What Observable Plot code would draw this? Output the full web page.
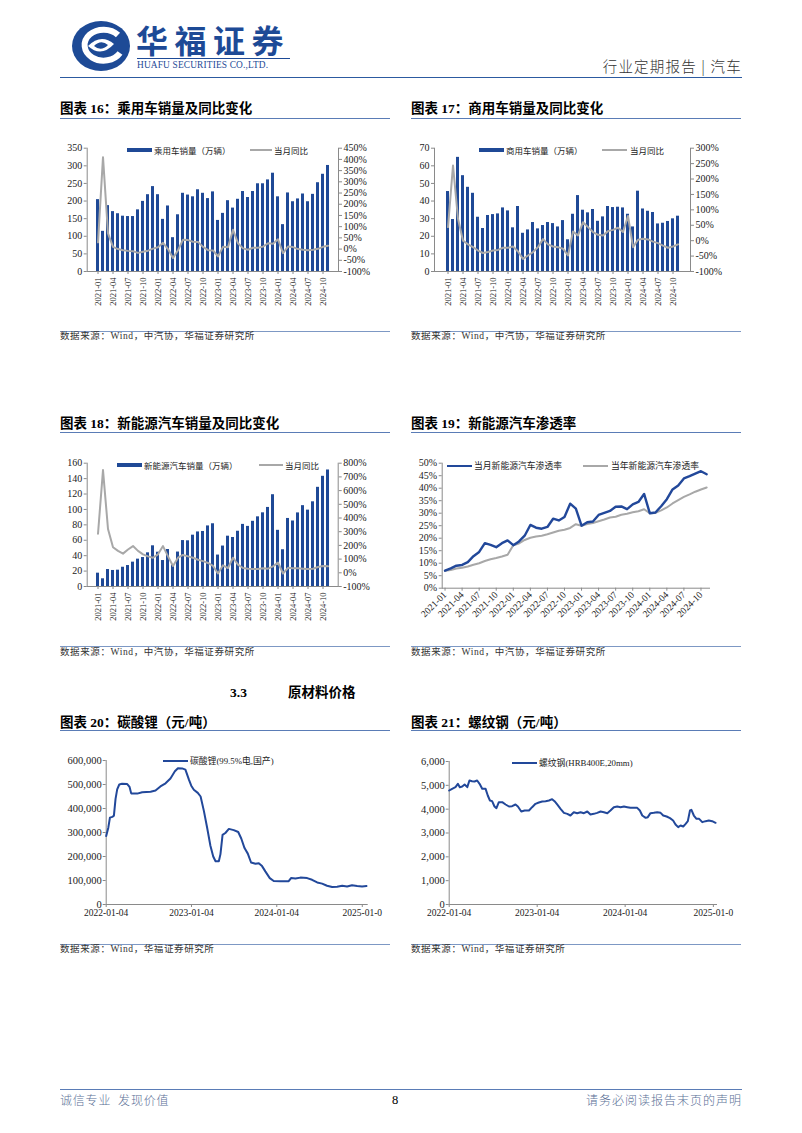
<!DOCTYPE html>
<html><head><meta charset="utf-8">
<script src="https://cdn.jsdelivr.net/npm/d3@7"></script>
<script src="https://cdn.jsdelivr.net/npm/@observablehq/plot@0.6"></script>
<style>
html,body{margin:0;padding:0;background:#fff;}
body{width:802px;height:1133px;position:relative;overflow:hidden;font-family:"Liberation Serif","Noto Sans CJK SC",serif;}
.abs{position:absolute;white-space:nowrap;}
svg{display:block;max-width:none !important;}
</style></head><body>
<script>
// ---------------- DATA ----------------
const months = ["2021-01","2021-02","2021-03","2021-04","2021-05","2021-06","2021-07","2021-08","2021-09","2021-10","2021-11","2021-12",
"2022-01","2022-02","2022-03","2022-04","2022-05","2022-06","2022-07","2022-08","2022-09","2022-10","2022-11","2022-12",
"2023-01","2023-02","2023-03","2023-04","2023-05","2023-06","2023-07","2023-08","2023-09","2023-10","2023-11","2023-12",
"2024-01","2024-02","2024-03","2024-04","2024-05","2024-06","2024-07","2024-08","2024-09","2024-10","2024-11"];
const quarterTicks = ["2021-01","2021-04","2021-07","2021-10","2022-01","2022-04","2022-07","2022-10","2023-01","2023-04","2023-07","2023-10","2024-01","2024-04","2024-07","2024-10"];

// 图表16 乘用车销量（万辆）及当月同比（%）
const pvSales = [204,114,187,170,164,157,156,156,175,199,218,241, 218,148,186,96,161,222,217,212,232,222,207,226, 145,165,201,180,205,227,210,227,249,249,260,279, 212,133,223,198,206,220,198,219,252,276,301];
const pvYoY = [30,410,70,10,0,-5,-8,-10,-17,-12,-7,2, 8,28,0,-40,-5,42,40,33,32,10,-5,-6, -33,10,8,86,26,3,-3,6,6,11,26,24, 44,-18,11,9,0,-3,-5,-3,1,10,15];
const pvLeftTicks = [0,50,100,150,200,250,300,350];
const pvRightTicks = [-100,-50,0,50,100,150,200,250,300,350,400,450];

// 图表17 商用车销量（万辆）及当月同比（%）
const cvSales = [45.4,29.5,64.8,54.4,47.8,44.4,30.8,24.4,31.8,32.3,32.7,36.1, 34.4,24.8,36.9,21.7,23.6,27.8,24.2,26.1,27.8,27.2,25.3,28.9, 18.0,32.5,43.1,34.8,33.3,35.2,28.5,31.0,36.9,36.3,36.5,36.1, 32.5,25.3,45.6,35.5,34.2,33.5,27.0,27.4,28.4,29.9,31.4];
const cvYoY = [44,244,71,0,-12,-21,-32,-40,-37,-32,-30,-23, -23,-19,-35,-59,-48,-37,-21,5,-12,-19,-21,-26, -48,30,17,60,44,28,19,17,31,35,42,28, 80,-21,3,6,4,-3,-8,-16,-23,-19,-12];
const cvLeftTicks = [0,10,20,30,40,50,60,70];
const cvRightTicks = [-100,-50,0,50,100,150,200,250,300];

// 图表18 新能源汽车销量（万辆）及当月同比（%）
const nevSales = [17.3,10.0,22.0,20.8,21.2,25.0,27.2,31.6,35.5,37.6,43.7,52.8, 44.5,33.7,48.0,28.0,44.7,59.6,59.3,66.6,70.8,71.4,78.6,81.4, 40.8,52.5,65.3,63.6,71.7,80.6,78.0,84.6,90.4,95.6,102.6,119.1, 72.9,47.7,88.3,85.0,95.5,104.9,99.1,109.9,128.7,143.0,151.2];
const nevYoY = [285,750,320,187,160,140,170,195,160,135,120,110, 135,195,120,50,110,130,120,110,95,85,72,50, -5,55,35,110,60,35,30,27,28,34,30,47, 75,-5,36,34,33,30,27,30,42,50,47];
const nevLeftTicks = [0,20,40,60,80,100,120,140,160];
const nevRightTicks = [-100,0,100,200,300,400,500,600,700,800];

// 图表19 新能源汽车渗透率（%）
const penMonth = [7.0,7.9,9.0,9.3,10.4,12.8,14.5,18.0,17.3,16.4,18.0,19.1, 17.2,18.7,21.0,25.3,24.2,23.8,24.5,27.8,27.1,28.5,33.8,31.8, 25.0,26.4,26.7,29.3,30.1,30.9,32.6,32.7,31.6,33.5,34.5,37.7, 30.0,30.3,32.8,35.6,39.5,41.1,43.9,44.8,45.8,46.8,45.6];
const penYear = [7.0,7.3,7.9,8.2,8.7,9.4,10.0,10.9,11.6,12.1,12.7,13.4, 17.2,17.9,19.3,20.2,20.7,21.0,21.6,22.3,23.0,23.4,24.1,25.6, 25.0,25.7,26.1,26.8,27.5,28.3,28.6,29.4,29.8,30.4,30.8,31.6, 30.0,30.1,31.1,32.3,33.9,35.2,36.5,37.5,38.6,39.5,40.3];
const penTicks = [0,5,10,15,20,25,30,35,40,45,50];

// 图表20 碳酸锂（99.5%电,国产）元/吨
const lcDates = ["2022-01-04","2022-01-13","2022-01-20","2022-01-30","2022-02-06","2022-02-13","2022-02-20","2022-03-01","2022-03-13","2022-04-04","2022-04-14","2022-04-21","2022-05-17","2022-06-07","2022-07-13","2022-08-03","2022-08-24","2022-09-15","2022-10-06","2022-10-25","2022-11-07","2022-11-25","2022-12-09","2022-12-24","2023-01-03","2023-01-14","2023-01-31","2023-02-12","2023-02-26","2023-03-12","2023-03-26","2023-04-07","2023-04-17","2023-05-01","2023-05-08","2023-05-17","2023-05-29","2023-06-13","2023-07-04","2023-07-23","2023-08-05","2023-08-19","2023-09-02","2023-09-16","2023-10-05","2023-10-19","2023-11-02","2023-11-16","2023-12-05","2023-12-22","2024-01-20","2024-02-24","2024-03-05","2024-03-24","2024-04-14","2024-05-13","2024-06-03","2024-06-25","2024-07-16","2024-08-06","2024-08-28","2024-09-18","2024-10-10","2024-10-31","2024-11-21","2024-12-13","2025-01-03","2025-01-22"];
const lcPrices = [285000,320000,362000,365000,370000,440000,480000,500000,503000,502000,490000,463000,462000,468000,470000,475000,492000,505000,525000,555000,568000,567000,562000,520000,495000,478000,465000,450000,390000,320000,245000,200000,180000,180000,210000,290000,298000,315000,310000,302000,275000,235000,212000,175000,170000,172000,160000,138000,110000,98000,97000,97000,110000,108000,112000,110000,103000,92000,87000,78000,73000,74000,78000,75000,80000,77000,75000,77000];
const lcYTicks = [0,100000,200000,300000,400000,500000,600000];
const priceXTicks = ["2022-01-04","2023-01-04","2024-01-04","2025-01-04"];
const priceXLabels = ["2022-01-04","2023-01-04","2024-01-04","2025-01-0"];

// 图表21 螺纹钢（HRB400E,20mm）元/吨
const rbDates = ["2022-01-04","2022-01-16","2022-01-30","2022-02-09","2022-02-17","2022-02-27","2022-03-09","2022-03-20","2022-03-29","2022-04-09","2022-04-19","2022-04-30","2022-05-10","2022-05-21","2022-06-04","2022-06-13","2022-06-22","2022-07-01","2022-07-11","2022-07-19","2022-07-29","2022-08-12","2022-08-26","2022-09-09","2022-09-22","2022-10-06","2022-10-16","2022-10-30","2022-11-13","2022-12-01","2022-12-14","2022-12-28","2023-01-11","2023-01-25","2023-02-08","2023-02-22","2023-03-07","2023-03-17","2023-03-28","2023-04-11","2023-04-25","2023-05-09","2023-05-22","2023-06-05","2023-06-19","2023-07-03","2023-07-17","2023-07-31","2023-08-13","2023-08-27","2023-09-10","2023-09-24","2023-10-08","2023-10-22","2023-11-04","2023-11-18","2023-12-02","2023-12-16","2023-12-30","2024-01-13","2024-01-26","2024-02-09","2024-02-23","2024-03-05","2024-03-15","2024-03-29","2024-04-07","2024-04-18","2024-05-02","2024-05-16","2024-05-30","2024-06-10","2024-06-24","2024-07-08","2024-07-21","2024-07-31","2024-08-11","2024-08-21","2024-09-01","2024-09-11","2024-09-20","2024-09-29","2024-10-05","2024-10-15","2024-10-26","2024-11-06","2024-11-19","2024-12-03","2024-12-16","2024-12-30","2025-01-13"];
const rbPrices = [4783,4853,4923,5063,4923,4951,5035,4923,5203,5175,5161,5203,5063,4853,4853,4573,4364,4336,4112,4042,4294,4294,4196,4112,4126,4196,4112,3902,3944,3944,4084,4224,4280,4322,4336,4364,4420,4336,4196,4014,3846,3804,3734,3874,3832,3874,3832,3902,3776,3804,3846,3902,3874,3832,3944,4084,4112,4084,4112,4084,4056,4056,4056,3944,3734,3636,3664,3832,3846,3874,3846,3734,3692,3622,3524,3357,3245,3315,3273,3385,3497,3944,3972,3734,3594,3594,3455,3497,3524,3497,3427];
const rbYTicks = [0,1000,2000,3000,4000,5000,6000];

// ---------------- STYLE ----------------
const BLUE = "#1f4996", LINEBLUE = "#22489a", GRAY = "#a8a8a8", AXIS = "#8a8a8a", TXT = "#222";
const CJK = "'Noto Sans CJK SC', sans-serif";
const SERIF = "'Liberation Serif', 'Noto Sans CJK SC', serif";
const baseStyle = {fontFamily: SERIF, fontSize: "10px", color: TXT, background: "transparent", overflow: "visible", maxWidth: "none"};

function addDiv(css, text) {
  const d = document.createElement("div");
  d.className = "abs";
  Object.assign(d.style, css);
  if (text != null) d.textContent = text;
  document.body.appendChild(d);
  return d;
}
function text(t, x, yc, fs, extra = {}) {
  return addDiv(Object.assign({left: x + "px", top: (yc - fs / 2) + "px", fontSize: fs + "px", lineHeight: fs + "px"}, extra), t);
}
function textR(t, xr, yc, fs, extra = {}) {
  return addDiv(Object.assign({right: (802 - xr) + "px", top: (yc - fs / 2) + "px", fontSize: fs + "px", lineHeight: fs + "px"}, extra), t);
}
function hline(x0, x1, y, color, w = 1) {
  return addDiv({left: x0 + "px", top: (y - w / 2) + "px", width: (x1 - x0) + "px", height: w + "px", background: color});
}
function swatch(x0, x1, y, h, color) {
  return addDiv({left: x0 + "px", top: (y - h / 2) + "px", width: (x1 - x0) + "px", height: h + "px", background: color});
}
function place(svg, left, top) {
  const d = document.createElement("div");
  Object.assign(d.style, {position: "absolute", left: left + "px", top: top + "px"});
  d.appendChild(svg);
  document.body.appendChild(d);
}
function chartTitle(t, x0, x1, yc, ry) {
  text(t, x0, yc, 13.5, {fontFamily: SERIF, fontWeight: "bold", color: "#000"});
  hline(x0, x1, ry, "#5a7cb6", 1);
}
function source(t, x0, x1, ry) {
  hline(x0, x1, ry, "#7d98c4", 1);
  text(t, x0, ry + 6, 9.5, {fontFamily: SERIF, color: "#333", letterSpacing: "0.6px"});
}

// ---------------- HEADER ----------------
const logo = document.createElementNS("http://www.w3.org/2000/svg", "svg");
logo.setAttribute("width", "62"); logo.setAttribute("height", "52");
logo.setAttribute("style", "position:absolute;left:71px;top:20px");
logo.innerHTML = `<ellipse cx="30" cy="26" rx="29" ry="25" fill="#1d4a96"/>
<path d="M47 15 A19 15.5 0 1 0 49 33" fill="none" stroke="#fff" stroke-width="6"/>
<path d="M17 26 Q30 13 43 24 Q30 38 17 26 Z" fill="#fff"/>
<path d="M23 26 Q30 19 37 25 Q30 32 23 26 Z" fill="#1d4a96"/>`;
document.body.appendChild(logo);
text("华福证券", 136, 38.5, 32, {fontFamily: CJK, fontWeight: "bold", color: "#1d4a96", letterSpacing: "6.5px"});
hline(137, 290, 58.5, "#1d4a96", 1);
text("HUAFU SECURITIES CO.,LTD.", 137, 65.5, 9.4, {fontFamily: "'Liberation Serif', serif", color: "#1d4a96", letterSpacing: "0.15px"});
textR("行业定期报告 | 汽车", 742, 66, 14.5, {fontFamily: CJK, color: "#333", letterSpacing: "1.2px", fontWeight: "300", whiteSpace: "pre"});
hline(60, 742, 77.5, "#2c5aa0", 1.6);

// ---------------- DUAL CHARTS ----------------
function dualChart(o) {
  const span = o.rMax - o.rMin;
  const toL = v => (v - o.rMin) / span * o.lMax;
  const rows = months.map((m, i) => ({m, s: o.sales[i], r: toL(o.yoy[i])}));
  return Plot.plot({
    width: o.width, height: o.height,
    marginLeft: o.mL, marginRight: o.mR, marginTop: o.mT, marginBottom: o.mB,
    style: baseStyle,
    x: {type: "band", domain: months, paddingInner: 0.45, paddingOuter: 0.25, label: null},
    y: {domain: [0, o.lMax], label: null},
    marks: [
      Plot.barY(rows, {x: "m", y: "s", fill: BLUE}),
      Plot.line(rows, {x: "m", y: "r", stroke: GRAY, strokeWidth: 2}),
      Plot.frame({anchor: "left", stroke: AXIS}),
      Plot.frame({anchor: "right", stroke: AXIS}),
      Plot.frame({anchor: "bottom", stroke: AXIS}),
      Plot.axisY(o.lTicks, {anchor: "left", label: null, tickSize: 3, tickPadding: 2, stroke: AXIS, fill: TXT, tickFormat: d => d}),
      Plot.axisY(o.rTicks.map(toL), {anchor: "right", label: null, tickSize: 3, tickPadding: 2, stroke: AXIS, fill: TXT,
        tickFormat: d => Math.round(d / o.lMax * span + o.rMin) + "%"}),
      Plot.axisX(quarterTicks, {anchor: "bottom", label: null, tickSize: 3, tickPadding: 3, tickRotate: -90, stroke: AXIS, fill: TXT, fontSize: 8.5})
    ]
  });
}

// 图表16
chartTitle("图表 16：乘用车销量及同比变化", 60, 390, 109, 118);
place(dualChart({sales: pvSales, yoy: pvYoY, lMax: 350, lTicks: pvLeftTicks, rMin: -100, rMax: 450, rTicks: pvRightTicks,
  width: 330, height: 170, mL: 26.7, mR: 52, mT: 7.7, mB: 39}), 60, 140);
swatch(127, 152, 150, 4.5, BLUE);
text("乘用车销量（万辆）", 154, 150, 8.5, {fontFamily: CJK, color: TXT});
swatch(250, 272, 150, 2, GRAY);
text("当月同比", 274, 150, 8.5, {fontFamily: CJK, color: TXT});
source("数据来源：Wind，中汽协，华福证券研究所", 60, 390, 331);

// 图表17
chartTitle("图表 17：商用车销量及同比变化", 411, 741, 109, 118);
place(dualChart({sales: cvSales, yoy: cvYoY, lMax: 70, lTicks: cvLeftTicks, rMin: -100, rMax: 300, rTicks: cvRightTicks,
  width: 340, height: 170, mL: 34, mR: 50, mT: 7.7, mB: 39}), 400, 140);
swatch(479, 504, 150, 4.5, BLUE);
text("商用车销量（万辆）", 506, 150, 8.5, {fontFamily: CJK, color: TXT});
swatch(602, 627, 150, 2, GRAY);
text("当月同比", 630, 150, 8.5, {fontFamily: CJK, color: TXT});
source("数据来源：Wind，中汽协，华福证券研究所", 411, 741, 331);

// 图表18
chartTitle("图表 18：新能源汽车销量及同比变化", 60, 390, 423.5, 432.7);
place(dualChart({sales: nevSales, yoy: nevYoY, lMax: 160, lTicks: nevLeftTicks, rMin: -100, rMax: 800, rTicks: nevRightTicks,
  width: 330, height: 170, mL: 26.7, mR: 52.3, mT: 7.7, mB: 39}), 60, 455);
swatch(117, 142, 465, 4.5, BLUE);
text("新能源汽车销量（万辆）", 144, 465, 8.5, {fontFamily: CJK, color: TXT});
swatch(259, 283, 465, 2, GRAY);
text("当月同比", 285, 465, 8.5, {fontFamily: CJK, color: TXT});
source("数据来源：Wind，中汽协，华福证券研究所", 60, 390, 646.7);

// 图表19
chartTitle("图表 19：新能源汽车渗透率", 411, 741, 423.5, 432.7);
{
  const rowsM = months.map((m, i) => ({m, v: penMonth[i]}));
  const rowsY = months.map((m, i) => ({m, v: penYear[i]}));
  place(Plot.plot({
    width: 340, height: 175, marginLeft: 41.7, marginRight: 31, marginTop: 7.7, marginBottom: 42.3,
    style: baseStyle,
    x: {type: "point", domain: months, padding: 0.5, label: null},
    y: {domain: [0, 50], label: null},
    marks: [
      Plot.frame({anchor: "left", stroke: AXIS}),
      Plot.frame({anchor: "bottom", stroke: AXIS}),
      Plot.axisY(penTicks, {anchor: "left", label: null, tickSize: 3, tickPadding: 2, stroke: AXIS, fill: TXT, tickFormat: d => d + "%"}),
      Plot.axisX(quarterTicks, {anchor: "bottom", label: null, tickSize: 3, tickPadding: 2, tickRotate: -45, stroke: AXIS, fill: TXT, fontSize: 9.5}),
      Plot.line(rowsY, {x: "m", y: "v", stroke: GRAY, strokeWidth: 2}),
      Plot.line(rowsM, {x: "m", y: "v", stroke: LINEBLUE, strokeWidth: 2.4})
    ]
  }), 400, 455);
  swatch(447, 472, 466, 2.6, LINEBLUE);
  text("当月新能源汽车渗透率", 474, 466, 8.8, {fontFamily: CJK, color: TXT});
  swatch(583, 608, 466, 2, GRAY);
  text("当年新能源汽车渗透率", 611, 466, 8.8, {fontFamily: CJK, color: TXT});
}
source("数据来源：Wind，中汽协，华福证券研究所", 411, 741, 646.7);

// ---------------- SECTION 3.3 ----------------
text("3.3", 230, 693, 13.5, {fontFamily: SERIF, fontWeight: "bold", color: "#000"});
text("原材料价格", 288, 693, 13.5, {fontFamily: SERIF, fontWeight: "bold", color: "#000"});

// ---------------- PRICE CHARTS ----------------
function priceChart(o) {
  const rows = o.dates.map((d, i) => ({d: new Date(d), v: o.values[i]}));
  const tickDates = priceXTicks.map(d => new Date(d));
  const labelOf = new Map(tickDates.map((d, i) => [+d, priceXLabels[i]]));
  return Plot.plot({
    width: o.width, height: o.height,
    marginLeft: o.mL, marginRight: o.mR, marginTop: o.mT, marginBottom: o.mB,
    style: baseStyle,
    x: {type: "utc", domain: [new Date("2022-01-04"), new Date(o.end)], label: null},
    y: {domain: [0, o.yMax], label: null},
    marks: [
      Plot.frame({anchor: "left", stroke: AXIS}),
      Plot.frame({anchor: "bottom", stroke: AXIS}),
      Plot.axisY(o.yTicks, {anchor: "left", label: null, tickSize: 3, tickPadding: 1.5, stroke: AXIS, fill: TXT, fontSize: 10.5, tickFormat: d3.format(",")}),
      Plot.axisX(tickDates, {anchor: "bottom", label: null, tickSize: 3, tickPadding: 2, stroke: AXIS, fill: TXT, fontSize: 9.5,
        tickFormat: d => labelOf.get(+d)}),
      Plot.line(rows, {x: "d", y: "v", stroke: LINEBLUE, strokeWidth: 2})
    ]
  });
}

// 图表20
chartTitle("图表 20：碳酸锂（元/吨）", 60, 390, 722.5, 730.5);
place(priceChart({dates: lcDates, values: lcPrices, yMax: 600000, yTicks: lcYTicks, end: "2025-01-25",
  width: 330, height: 175, mL: 45.7, mR: 23.3, mT: 10, mB: 21}), 60, 750);
swatch(163, 188, 761, 2, LINEBLUE);
text("碳酸锂(99.5%电,国产)", 190, 761, 8.8, {fontFamily: SERIF, color: TXT});
source("数据来源：Wind，华福证券研究所", 60, 390, 944);

// 图表21
chartTitle("图表 21：螺纹钢（元/吨）", 411, 741, 722.5, 730.5);
place(priceChart({dates: rbDates, values: rbPrices, yMax: 6000, yTicks: rbYTicks, end: "2025-01-17",
  width: 340, height: 175, mL: 48.7, mR: 24, mT: 11, mB: 21}), 400, 750);
swatch(512, 537, 763, 2, LINEBLUE);
text("螺纹钢(HRB400E,20mm)", 539, 763, 8.8, {fontFamily: SERIF, color: TXT});
source("数据来源：Wind，华福证券研究所", 411, 741, 944);

// ---------------- FOOTER ----------------
hline(60, 742, 1089, "#5a7cb6", 1);
text("诚信专业  发现价值", 60, 1100, 12, {fontFamily: CJK, color: "#5a6f96", letterSpacing: "0.8px", fontWeight: "300", whiteSpace: "pre"});
text("8", 392, 1100, 12.5, {fontFamily: "'Liberation Serif', serif", color: "#000"});
textR("请务必阅读报告末页的声明", 742, 1100, 12, {fontFamily: CJK, color: "#5a6f96", letterSpacing: "1px", fontWeight: "300"});
</script>
</body></html>
